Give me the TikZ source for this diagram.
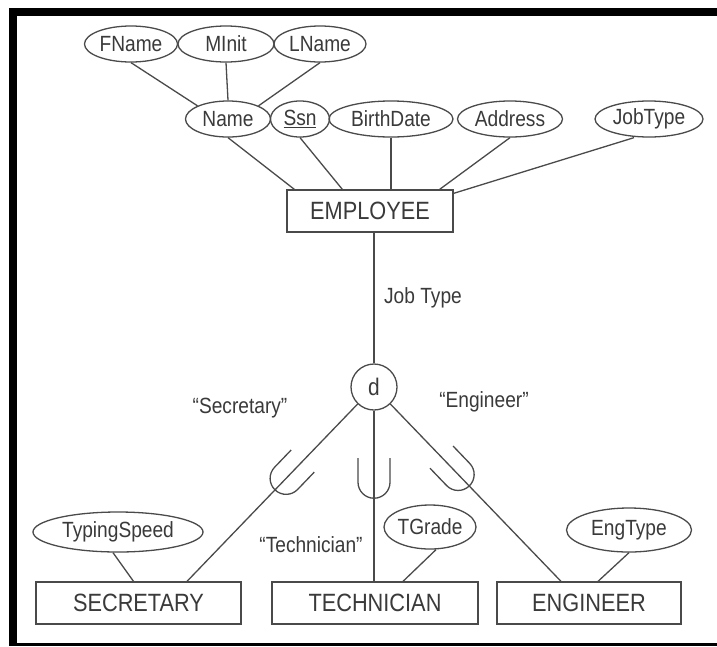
\documentclass[tikz,border=0pt]{standalone}
\usepackage{fontspec}
\setmainfont{Liberation Sans}[FakeStretch=0.87]
\usetikzlibrary{shapes.geometric,calc}
\definecolor{erline}{HTML}{4A4A4A}
\definecolor{ertext}{HTML}{3A3A3A}
\tikzset{
  attr/.style={ellipse, draw=erline, line width=1.3pt, inner sep=0pt, minimum height=36,
    font=\fontsize{22}{22}\selectfont, text=ertext},
  entity/.style={rectangle, draw=erline, line width=1.3pt, inner sep=0pt, minimum height=42,
    font=\fontsize{25}{25}\selectfont, text=ertext},
  link/.style={draw=erline, line width=1.3pt},
  lbl/.style={font=\fontsize{22}{22}\selectfont, text=ertext, inner sep=0pt},
  subsetU/.pic={\draw[link] (-16,-24) -- (-16,0) arc[start angle=180, end angle=360, radius=16pt] -- (16,-24);}
}
\begin{document}
\begin{tikzpicture}[x=1pt, y=-1pt]
        \useasboundingbox (0,0) rectangle (717,646);
        \fill[white] (0,0) rectangle (717,646);
        \fill[black] (9,8) rectangle (717,16);
        \fill[black] (9,8) rectangle (17,646);
        \fill[black] (9,643) rectangle (717,646);

        % attributes of EMPLOYEE
        \node[attr, minimum width=93] (fname) at (131,44) {FName};
        \node[attr, minimum width=96] (minit) at (226,44) {MInit};
        \node[attr, minimum width=92] (lname) at (320,44) {LName};
        \node[attr, minimum width=85] (name) at (228,119) {Name};
        \node[attr, minimum width=59] (ssn) at (300,119) {\underline{Ssn}};
        \node[attr, minimum width=124] (bdate) at (391,119) {BirthDate};
        \node[attr, minimum width=105] (addr) at (510,119) {Address};
        \node[attr, minimum width=108] (jobtype) at (649,119) {JobType};
        \node[entity, minimum width=166] (emp) at (370,211) {EMPLOYEE};

        \draw[link] (fname.south) -- (name.north west);
        \draw[link] (minit.south) -- (name.north);
        \draw[link] (lname.south) -- (name.north east);
        \draw[link] (name.south) -- ([xshift=8]emp.north west);
        \draw[link] (ssn.south) -- ([xshift=56]emp.north west);
        \draw[link] (bdate.south) -- (bdate |- emp.north);
        \draw[link] (addr.south) -- ([xshift=-14]emp.north east);
        \draw[link] ([xshift=-15]jobtype.south) -- ([yshift=-4]emp.north east);

        % specialization
        \node[circle, draw=erline, line width=1.3pt, minimum size=46, inner sep=0pt,
          font=\fontsize{24}{24}\selectfont, text=ertext] (d) at (374,387) {d};
        \node[lbl] (jtlbl) at (423,298) {Job Type};
        \draw[link] (d |- emp.south) -- (d);

        \node[entity, minimum width=205] (sec) at (138.5,603) {SECRETARY};
        \node[entity, minimum width=206] (tech) at (375,603) {TECHNICIAN};
        \node[entity, minimum width=184] (eng) at (589,603) {ENGINEER};
        \coordinate (secjoin) at ([xshift=48.5]sec.north);
        \coordinate (engjoin) at ([xshift=-28]eng.north);

        \draw[link] (d) -- (secjoin);
        \draw[link] (d) -- (d |- tech.north);
        \draw[link] (d) -- (engjoin);
        \pic[rotate=-43.8] at ($(d)!0.47!(secjoin)$) {subsetU};
        \pic at ($(d)!0.49!(d |- tech.north)$) {subsetU};
        \pic[rotate=43.8] at ($(d)!0.45!(engjoin)$) {subsetU};

        \node[lbl] (seclbl) at (240,408) {“Secretary”};
        \node[lbl] (englbl) at (484,402) {“Engineer”};
        \node[lbl] (techlbl) at (311,545) {“Technician”};

        % local attributes
        \node[attr, minimum width=170, minimum height=40] (tspeed) at (118,532) {TypingSpeed};
        \node[attr, minimum width=92, minimum height=44] (tgrade) at (430,527) {TGrade};
        \node[attr, minimum width=125, minimum height=44] (engtype) at (629,530) {EngType};
        \draw[link] ([xshift=-5]tspeed.south) -- ([xshift=-5]sec.north);
        \draw[link] ([xshift=6]tgrade.south) -- ([xshift=28]tech.north);
        \draw[link] (engtype.south) -- ([xshift=9]eng.north);
    \end{tikzpicture}
\end{document}
